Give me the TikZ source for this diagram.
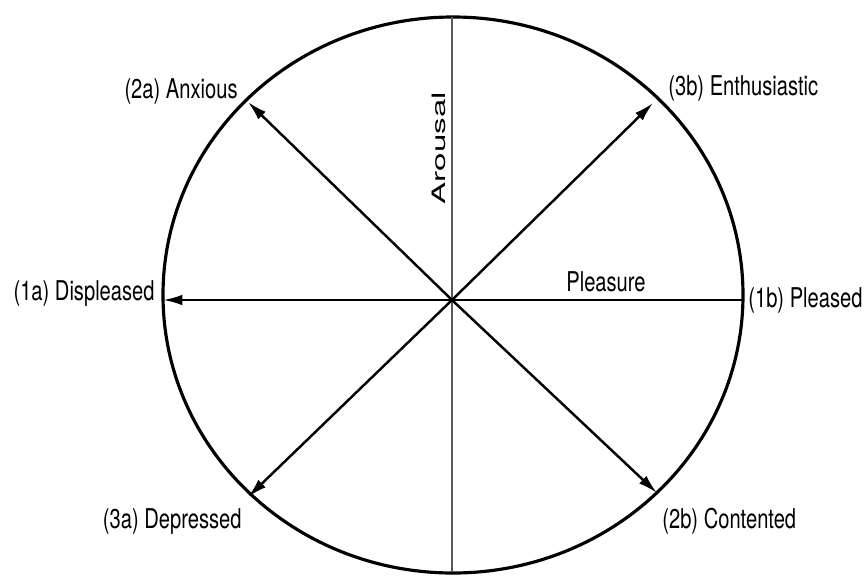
\documentclass[tikz,border=0pt]{standalone}
\usepackage{fontspec}
\setmainfont{TeX Gyre Heros}[FakeStretch=0.74]
\newfontfamily\axisfont{TeX Gyre Heros}[FakeStretch=1.8]
\usetikzlibrary{arrows.meta}

\begin{document}
\begin{tikzpicture}[x=0.02cm, y=-0.02cm,
    every node/.style={font=\fontsize{15.5}{18}\selectfont, inner sep=0pt},
    vec/.style={-{Latex[length=11pt,width=6pt]}, line width=1.4pt}]
    \useasboundingbox (0,0) rectangle (866,576);
    \draw[line width=1.8pt] (453,295) ellipse [x radius=290, y radius=278];
    % centre and points on the circle
    \coordinate (o) at (452,300);
    \coordinate (top) at (452,17);
    \coordinate (bot) at (452,572);
    \coordinate (w) at (163,300);
    \coordinate (e) at (743,300);
    \coordinate (nw) at (248,102);
    \coordinate (ne) at (653,103);
    \coordinate (sw) at (248,497);
    \coordinate (se) at (657,493);
    \draw[gray!70!black, line width=0.9pt] (top) -- (bot);
    \draw[vec, {Latex[length=11pt,width=6pt]}-] (w) -- (e);
    \draw[vec] (o) -- (nw);
    \draw[vec] (o) -- (ne);
    \draw[vec] (o) -- (sw);
    \draw[vec] (o) -- (se);
    % labels
    \node[anchor=base east] (anx) at (238,98) {(2a) Anxious};
    \node[anchor=base west] (ent) at (668,95) {(3b) Enthusiastic};
    \node[anchor=base east] (dis) at (155,300) {(1a) Displeased};
    \node[anchor=base west] (ple) at (748,307) {(1b) Pleased};
    \node[anchor=base east] (dep) at (242,528) {(3a) Depressed};
    \node[anchor=base west] (con) at (662,528) {(2b) Contented};
    \node[anchor=base] (plx) at (606,291) {Pleasure};
    \node[anchor=base, rotate=90, font=\axisfont\fontsize{10.5}{12}\selectfont] (arx) at (445,148) {Arousal};
\end{tikzpicture}
\end{document}
